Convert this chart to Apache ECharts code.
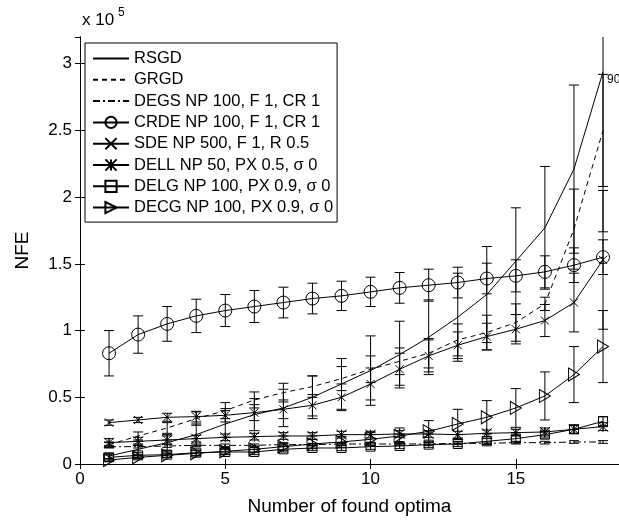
<!DOCTYPE html>
<html>
<head>
<meta charset="utf-8">
<script src="https://cdn.jsdelivr.net/npm/echarts@6/dist/echarts.min.js"></script>
<style>
  html, body { margin: 0; padding: 0; background: #fff; }
  #chart { width: 619px; height: 522px; }
</style>
</head>
<body>
<div id="chart"></div>
<script>
// number of found optima (x)
const foundOptima = [1, 2, 3, 4, 5, 6, 7, 8, 9, 10, 11, 12, 13, 14, 15, 16, 17, 18];
const xTicks = [0, 5, 10, 15];
const yTicks = [0, 0.5, 1, 1.5, 2, 2.5, 3];

// NFE, in units of 1e5, with half-width of error bars
const rsgd = [0.06, 0.11, 0.16, 0.22, 0.30, 0.37, 0.42, 0.50, 0.60, 0.70, 0.82, 0.95, 1.10, 1.27, 1.52, 1.77, 2.21, 2.94];
const rsgdErr = [0.02, 0.04, 0.06, 0.08, 0.10, 0.12, 0.14, 0.16, 0.19, 0.26, 0.25, 0.28, 0.33, 0.36, 0.40, 0.46, 0.63, 1.2];
const grgd = [0.145, 0.21, 0.27, 0.34, 0.40, 0.48, 0.535, 0.58, 0.64, 0.71, 0.77, 0.83, 0.93, 0.985, 1.06, 1.2, 1.76, 2.5];
const grgdErr = [0.02, 0.03, 0.04, 0.05, 0.06, 0.06, 0.07, 0.08, 0.09, 0.10, 0.10, 0.11, 0.12, 0.13, 0.14, 0.05, 0.30, 0.42];
const degs = [0.13, 0.13, 0.135, 0.14, 0.14, 0.14, 0.145, 0.145, 0.15, 0.15, 0.15, 0.15, 0.155, 0.155, 0.16, 0.16, 0.165, 0.165];
const degsErr = [0.01, 0.01, 0.01, 0.01, 0.01, 0.01, 0.01, 0.01, 0.01, 0.01, 0.01, 0.01, 0.01, 0.01, 0.01, 0.01, 0.01, 0.01];
const crde = [0.83, 0.97, 1.05, 1.11, 1.15, 1.18, 1.21, 1.24, 1.26, 1.29, 1.32, 1.34, 1.36, 1.39, 1.41, 1.44, 1.49, 1.55];
const crdeErr = [0.17, 0.14, 0.13, 0.125, 0.12, 0.12, 0.115, 0.115, 0.11, 0.11, 0.115, 0.12, 0.115, 0.115, 0.12, 0.12, 0.13, 0.13];
const sde = [0.31, 0.33, 0.35, 0.355, 0.365, 0.385, 0.41, 0.44, 0.50, 0.60, 0.71, 0.81, 0.89, 0.955, 1.01, 1.075, 1.21, 1.53];
const sdeErr = [0.02, 0.02, 0.03, 0.04, 0.05, 0.06, 0.07, 0.08, 0.10, 0.12, 0.12, 0.12, 0.10, 0.10, 0.11, 0.12, 0.22, 0.52];
const dell = [0.16, 0.17, 0.18, 0.19, 0.20, 0.205, 0.21, 0.21, 0.22, 0.22, 0.225, 0.225, 0.22, 0.23, 0.235, 0.24, 0.26, 0.28];
const dellErr = [0.03, 0.03, 0.03, 0.025, 0.025, 0.025, 0.025, 0.025, 0.025, 0.025, 0.025, 0.025, 0.025, 0.025, 0.025, 0.03, 0.03, 0.03];
const delg = [0.05, 0.065, 0.07, 0.085, 0.09, 0.09, 0.11, 0.12, 0.12, 0.13, 0.135, 0.145, 0.15, 0.17, 0.19, 0.22, 0.26, 0.32];
const delgErr = [0.02, 0.02, 0.02, 0.02, 0.02, 0.02, 0.02, 0.02, 0.02, 0.02, 0.02, 0.02, 0.02, 0.02, 0.025, 0.025, 0.03, 0.035];
const decg = [0.03, 0.05, 0.065, 0.08, 0.095, 0.11, 0.13, 0.15, 0.165, 0.185, 0.21, 0.245, 0.30, 0.35, 0.42, 0.51, 0.67, 0.88];
const decgErr = [0.01, 0.01, 0.015, 0.02, 0.02, 0.025, 0.03, 0.035, 0.04, 0.05, 0.06, 0.08, 0.11, 0.125, 0.145, 0.18, 0.21, 0.27];

const names = [
  "RSGD",
  "GRGD",
  "DEGS NP 100, F 1, CR 1",
  "CRDE NP 100, F 1, CR 1",
  "SDE NP 500, F 1, R 0.5",
  "DELL NP 50, PX 0.5, σ 0",
  "DELG NP 100, PX 0.9, σ 0",
  "DECG NP 100, PX 0.9, σ 0",
];

const FONT = "Liberation Sans, Arial, Helvetica, sans-serif";

// marker shapes
const xMark = "path://M0,0L10,10M0,10L10,0";
const starMark = "path://M0,0L10,10M0,10L10,0M5,0L5,10M0,5L10,5";
const triRight = "path://M0,0L10,5L0,10Z";

const chart = echarts.init(document.getElementById("chart"));

const lineSeries = (name, vals, lineType, symbol, size) => ({
  name,
  type: "line",
  data: foundOptima.map((x, i) => [x, vals[i]]),
  symbol: symbol || "none",
  symbolSize: size || 0,
  showSymbol: !!symbol,
  lineStyle: { color: "#000", width: 1, type: lineType },
  // no marker -> invisible legend symbol too
  itemStyle: symbol
    ? { color: "rgba(0,0,0,0)", borderColor: "#000", borderWidth: 1 }
    : { color: "rgba(0,0,0,0)", borderColor: "rgba(0,0,0,0)", borderWidth: 0 },
  animation: false,
  z: 3,
});

// 误差棒
const errorSeries = (vals, errs) => ({
  type: "custom",
  silent: true,
  animation: false,
  data: foundOptima.map((x, i) => [x, vals[i] - errs[i], vals[i] + errs[i]]),
  encode: { x: 0, y: [1, 2] },
  z: 2,
  renderItem: (params, api) => {
    const x = api.value(0);
    const lo = api.coord([x, api.value(1)]);
    const hi = api.coord([x, api.value(2)]);
    const top = params.coordSys.y;
    const bottom = params.coordSys.y + params.coordSys.height;
    const y1 = Math.max(hi[1], top);
    const y2 = Math.min(lo[1], bottom);
    const w = 5;
    const st = { stroke: "#000", lineWidth: 1 };
    const children = [
      { type: "line", shape: { x1: lo[0], y1: y1, x2: lo[0], y2: y2 }, style: st },
    ];
    if (hi[1] >= top) {
      children.push({ type: "line", shape: { x1: hi[0] - w, y1: hi[1], x2: hi[0] + w, y2: hi[1] }, style: st });
    }
    if (lo[1] <= bottom) {
      children.push({ type: "line", shape: { x1: lo[0] - w, y1: lo[1], x2: lo[0] + w, y2: lo[1] }, style: st });
    }
    return { type: "group", children };
  },
});

const rsgdLine = lineSeries(names[0], rsgd, "solid");
rsgdLine.endLabel = {
  show: true,
  formatter: "90",
  distance: 2,
  fontSize: 12,
  color: "#000",
  fontFamily: FONT,
  offset: [2, 8],
};

const option = {
  backgroundColor: "#fff",
  animation: false,
  textStyle: { fontFamily: FONT, color: "#000" },
  grid: { left: 80, right: -2, top: 37, bottom: 58, containLabel: false },
  legend: {
    orient: "vertical",
    left: 85,
    top: 43,
    padding: [7, 4, 6, 7],
    itemGap: 4.3,
    itemWidth: 36,
    itemHeight: 14,
    borderColor: "#000",
    borderWidth: 1,
    backgroundColor: "#fff",
    data: names,
    textStyle: { fontSize: 16.5, color: "#000", fontFamily: FONT, lineHeight: 14 },
    z: 10,
  },
  graphic: [
    { type: "text", left: 82, top: 12, style: { text: "x 10", fontSize: 17, fill: "#000", fontFamily: FONT } },
    { type: "text", left: 118, top: 7, style: { text: "5", fontSize: 12, fill: "#000", fontFamily: FONT } },
  ],
  xAxis: [
    {
      type: "value",
      min: 0,
      max: 18.55,
      interval: 5,
      name: "Number of found optima",
      nameLocation: "middle",
      nameGap: 33,
      nameTextStyle: { fontSize: 19, color: "#000" },
      axisLine: { lineStyle: { color: "#000", width: 1 } },
      axisTick: { inside: true, length: 5, lineStyle: { color: "#000" } },
      axisLabel: {
        fontSize: 17,
        color: "#000",
        margin: 7,
        showMaxLabel: false,
        formatter: (v) => (xTicks.includes(v) ? String(v) : ""),
      },
      splitLine: { show: false },
    },
    {
      type: "value",
      position: "top",
      min: 0,
      max: 18.55,
      interval: 5,
      axisLine: { lineStyle: { color: "#000", width: 1 } },
      axisTick: { inside: true, length: 5, lineStyle: { color: "#000" } },
      axisLabel: { show: false },
      splitLine: { show: false },
    },
  ],
  yAxis: [
    {
      type: "value",
      min: 0,
      max: 3.2,
      interval: 0.5,
      name: "NFE",
      nameLocation: "middle",
      nameGap: 48,
      nameTextStyle: { fontSize: 19, color: "#000" },
      axisLine: { show: true, lineStyle: { color: "#000", width: 1 } },
      axisTick: { show: true, inside: true, length: 5, lineStyle: { color: "#000" } },
      axisLabel: {
        fontSize: 17,
        color: "#000",
        margin: 8,
        showMaxLabel: false,
        formatter: (v) => (yTicks.includes(v) ? String(v) : ""),
      },
      splitLine: { show: false },
    },
    {
      type: "value",
      position: "right",
      min: 0,
      max: 3.2,
      interval: 0.5,
      axisLine: { show: true, lineStyle: { color: "#000", width: 1 } },
      axisTick: { show: true, inside: true, length: 5, lineStyle: { color: "#000" } },
      axisLabel: { show: false },
      splitLine: { show: false },
    },
  ],
  series: [
    errorSeries(rsgd, rsgdErr),
    errorSeries(grgd, grgdErr),
    errorSeries(degs, degsErr),
    errorSeries(crde, crdeErr),
    errorSeries(sde, sdeErr),
    errorSeries(dell, dellErr),
    errorSeries(delg, delgErr),
    errorSeries(decg, decgErr),
    rsgdLine,
    lineSeries(names[1], grgd, [5, 4]),
    lineSeries(names[2], degs, [7, 3, 2, 3]),
    lineSeries(names[3], crde, "solid", "circle", 13),
    lineSeries(names[4], sde, "solid", xMark, 8),
    lineSeries(names[5], dell, "solid", starMark, 10),
    lineSeries(names[6], delg, "solid", "rect", 9),
    lineSeries(names[7], decg, "solid", triRight, [11, 13]),
  ],
};

chart.setOption(option);
window.addEventListener("resize", () => chart.resize());
</script>
</body>
</html>
